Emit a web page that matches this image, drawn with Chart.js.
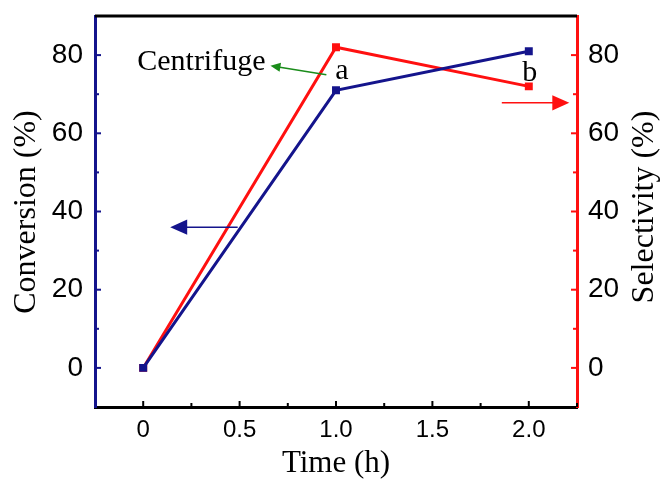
<!DOCTYPE html>
<html>
<head>
<meta charset="utf-8">
<script src="https://cdn.jsdelivr.net/npm/chart.js@4.4.1/dist/chart.umd.min.js"></script>
<style>
  html, body { margin: 0; padding: 0; background: #fff; }
  #wrap { width: 663px; height: 479px; }
</style>
</head>
<body>
<div id="wrap"><canvas id="chart" width="663" height="479"></canvas></div>
<script>
const times = [0, 1.0, 2.0];
const conversion = [0, 71, 81];
const selectivity = [0, 82, 72];
const xTickValues = [0, 0.5, 1.0, 1.5, 2.0];
const xTickLabels = ['0', '0.5', '1.0', '1.5', '2.0'];
const yTickValues = [0, 20, 40, 60, 80];

const BLUE = '#14148c';
const RED = '#ff1010';
const GREEN = '#1a8c1a';
const SERIF = '"Liberation Serif", "DejaVu Serif", serif';
const SANS = '"Liberation Sans", Arial, sans-serif';

function arrow(ctx, x1, y1, x2, y2, color, width, head) {
    ctx.save();
    ctx.strokeStyle = color;
    ctx.fillStyle = color;
    ctx.lineWidth = width;
    const ang = Math.atan2(y2 - y1, x2 - x1);
    ctx.beginPath();
    ctx.moveTo(x1, y1);
    ctx.lineTo(x2 - Math.cos(ang) * head * 0.8, y2 - Math.sin(ang) * head * 0.8);
    ctx.stroke();
    ctx.beginPath();
    ctx.moveTo(x2, y2);
    ctx.lineTo(x2 - head * Math.cos(ang) + head * 0.45 * Math.sin(ang), y2 - head * Math.sin(ang) - head * 0.45 * Math.cos(ang));
    ctx.lineTo(x2 - head * Math.cos(ang) - head * 0.45 * Math.sin(ang), y2 - head * Math.sin(ang) + head * 0.45 * Math.cos(ang));
    ctx.closePath();
    ctx.fill();
    ctx.restore();
}

const decorations = {
    id: 'decorations',
    afterDraw(chart) {
        const ctx = chart.ctx;
        const a = chart.chartArea;
        const x = chart.scales.x, y = chart.scales.y, y1 = chart.scales.y1;
        ctx.save();

        // top frame line
        ctx.strokeStyle = '#000';
        ctx.lineWidth = 3;
        ctx.beginPath();
        ctx.moveTo(a.left, a.top);
        ctx.lineTo(a.right, a.top);
        ctx.stroke();

        // inward ticks
        ctx.lineWidth = 2;
        ctx.strokeStyle = '#000';
        for (let v = 0; v <= 2.25; v += 0.25) {
            const px = x.getPixelForValue(v);
            const len = (v * 2) % 1 === 0 ? 6 : 4;
            ctx.beginPath();
            ctx.moveTo(px, a.bottom);
            ctx.lineTo(px, a.bottom - len);
            ctx.stroke();
        }
        for (let v = 0; v <= 80; v += 10) {
            const len = v % 20 === 0 ? 6 : 4;
            const py = y.getPixelForValue(v);
            ctx.strokeStyle = BLUE;
            ctx.beginPath();
            ctx.moveTo(a.left, py);
            ctx.lineTo(a.left + len, py);
            ctx.stroke();
            const py1 = y1.getPixelForValue(v);
            ctx.strokeStyle = RED;
            ctx.beginPath();
            ctx.moveTo(a.right, py1);
            ctx.lineTo(a.right - len, py1);
            ctx.stroke();
        }

        // axis titles
        ctx.fillStyle = '#000';
        ctx.font = '31px ' + SERIF;
        ctx.textAlign = 'center';
        ctx.textBaseline = 'middle';
        ctx.fillText('Time (h)', (a.left + a.right) / 2, 464);
        ctx.font = '32px ' + SERIF;
        ctx.save();
        ctx.translate(27, 212);
        ctx.rotate(-Math.PI / 2);
        ctx.fillText('Conversion (%)', 0, 0);
        ctx.restore();
        ctx.save();
        ctx.translate(645, 207);
        ctx.rotate(-Math.PI / 2);
        ctx.fillText('Selectivity (%)', 0, 0);
        ctx.restore();

        // annotations
        ctx.textBaseline = 'alphabetic';
        ctx.font = '30px ' + SERIF;
        ctx.textAlign = 'left';
        ctx.fillText('Centrifuge', x.getPixelForValue(-0.031), y.getPixelForValue(76.2));
        ctx.textAlign = 'center';
        ctx.fillText('a', x.getPixelForValue(1.03), y.getPixelForValue(73.8));
        ctx.fillText('b', x.getPixelForValue(2.005), y.getPixelForValue(73.3));

        arrow(ctx, x.getPixelForValue(0.95), y.getPixelForValue(75), x.getPixelForValue(0.66), y.getPixelForValue(77.3), GREEN, 1.5, 10);
        arrow(ctx, x.getPixelForValue(0.49), y.getPixelForValue(36), x.getPixelForValue(0.14), y.getPixelForValue(36), BLUE, 1.5, 17);
        arrow(ctx, x.getPixelForValue(1.86), y1.getPixelForValue(67.8), x.getPixelForValue(2.21), y1.getPixelForValue(67.8), RED, 1.5, 17);

        ctx.restore();
    }
};

const ctx = document.getElementById('chart').getContext('2d');

new Chart(ctx, {
    type: 'line',
    data: {
        datasets: [
            {
                label: 'Conversion',
                data: times.map((t, i) => ({ x: t, y: conversion[i] })),
                yAxisID: 'y',
                borderColor: BLUE,
                backgroundColor: BLUE,
                borderWidth: 3,
                pointStyle: 'rect',
                pointRadius: 3.5,
                tension: 0
            },
            {
                label: 'Selectivity',
                data: times.map((t, i) => ({ x: t, y: selectivity[i] })),
                yAxisID: 'y1',
                borderColor: RED,
                backgroundColor: RED,
                borderWidth: 3,
                pointStyle: 'rect',
                pointRadius: 3.5,
                tension: 0
            }
        ]
    },
    options: {
        responsive: false,
        animation: false,
        events: [],
        layout: { padding: { top: 16, left: 0, right: 0, bottom: 0 } },
        plugins: {
            legend: { display: false },
            tooltip: { enabled: false }
        },
        scales: {
            x: {
                type: 'linear',
                min: -0.25,
                max: 2.25,
                afterBuildTicks: s => { s.ticks = xTickValues.map(v => ({ value: v })); },
                afterFit: s => { s.height = 72; s.paddingLeft = 0; s.paddingRight = 0; },
                ticks: {
                    callback: (v) => xTickLabels[xTickValues.indexOf(v)],
                    color: '#000',
                    font: { family: SANS, size: 24 },
                    padding: 9,
                    maxRotation: 0
                },
                grid: { display: false, drawTicks: false },
                border: { display: true, color: '#000', width: 3 }
            },
            y: {
                position: 'left',
                min: -10,
                max: 90,
                afterBuildTicks: s => { s.ticks = yTickValues.map(v => ({ value: v })); },
                afterFit: s => { s.width = 95; s.paddingTop = 0; s.paddingBottom = 0; },
                ticks: {
                    color: '#000',
                    font: { family: SANS, size: 28 },
                    padding: 12
                },
                grid: { display: false, drawTicks: false },
                border: { display: true, color: BLUE, width: 3 }
            },
            y1: {
                position: 'right',
                min: -10,
                max: 90,
                afterBuildTicks: s => { s.ticks = yTickValues.map(v => ({ value: v })); },
                afterFit: s => { s.width = 86; s.paddingTop = 0; s.paddingBottom = 0; },
                ticks: {
                    color: '#000',
                    font: { family: SANS, size: 28 },
                    padding: 11
                },
                grid: { display: false, drawTicks: false },
                border: { display: true, color: RED, width: 3 }
            }
        }
    },
    plugins: [decorations]
});
</script>
</body>
</html>
